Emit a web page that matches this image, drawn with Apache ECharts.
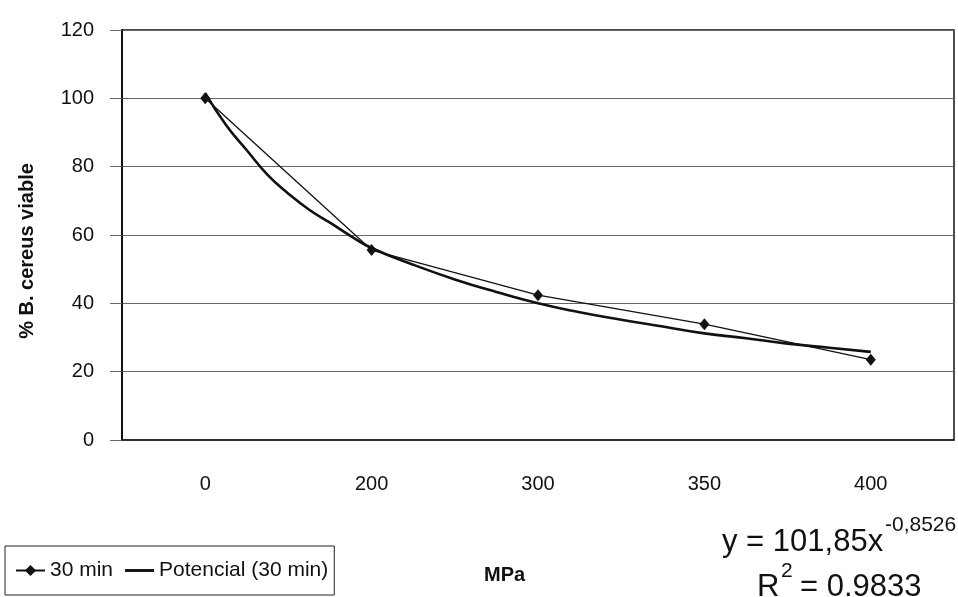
<!DOCTYPE html>
<html>
<head>
<meta charset="utf-8">
<script src="https://cdn.jsdelivr.net/npm/echarts@6/dist/echarts.min.js"></script>
<style>
  html, body { margin: 0; padding: 0; background: #fff; }
  #chart { width: 958px; height: 597px; }
</style>
</head>
<body>
<div id="chart"></div>
<script>
// pressure (MPa) categories and % viable B. cereus after 30 min
const categories = ['0', '200', '300', '350', '400']
const viable30 = [100, 55.6, 42.4, 33.9, 23.5]

// power trendline (x = category position 1..5)
const trendX = [1, 1.125, 1.25, 1.375, 1.5, 1.625, 1.75, 1.875, 2, 2.25, 2.5, 2.75, 3, 3.25, 3.5, 3.75, 4, 4.25, 4.5, 4.75, 5]
const trendY = [101.5, 92.2, 84.8, 77.6, 72.1, 67.4, 63.6, 59.7, 56.2, 51.3, 47.0, 43.3, 40.0, 37.4, 35.2, 33.2, 31.2, 29.8, 28.2, 27.0, 25.8]

const yTicks = { min: 0, max: 120, step: 20 }

const font = "'Liberation Sans', Arial, Helvetica, sans-serif"

const chart = echarts.init(document.getElementById('chart'))
chart.setOption({
  backgroundColor: '#fff',
  animation: false,
  textStyle: { fontFamily: font, color: '#111' },
  grid: {
    left: 122, right: 4, top: 30, bottom: 157,
    show: true, borderColor: '#111', borderWidth: 1.5,
    outerBoundsMode: 'none'
  },
  legend: {
    left: 5, top: 546,
    orient: 'horizontal',
    padding: [8, 6, 8, 10],
    borderColor: '#222', borderWidth: 1,
    itemWidth: 29, itemHeight: 14, itemGap: 12,
    textStyle: { fontSize: 21, color: '#111', fontFamily: font, lineHeight: 33 },
    data: [
      { name: '30 min' },
      { name: 'Potencial (30 min)', icon: 'path://M0,0 L30,0 L30,3 L0,3 Z' }
    ]
  },
  xAxis: [
    {
      type: 'category',
      data: categories,
      boundaryGap: true,
      axisLine: { lineStyle: { color: '#222', width: 1.5 } },
      axisTick: { length: 11, lineStyle: { color: '#444' } },
      axisLabel: { fontSize: 20, color: '#111', margin: 34 },
      splitLine: { show: false }
    },
    {
      type: 'value',
      min: 0.5, max: 5.5,
      show: false,
      splitLine: { show: false }
    }
  ],
  yAxis: {
    type: 'value',
    min: yTicks.min, max: yTicks.max, interval: yTicks.step,
    axisLine: { show: true, lineStyle: { color: '#111', width: 2 } },
    axisTick: { show: true, length: 12, lineStyle: { color: '#666' } },
    axisLabel: { fontSize: 20, color: '#111', margin: 28 },
    splitLine: { lineStyle: { color: '#666', width: 1 } }
  },
  graphic: [
    {
      type: 'text', x: 27, y: 251, rotation: Math.PI / 2,
      style: { text: '% B. cereus viable', font: 'bold 20px ' + font, fill: '#111', align: 'center', verticalAlign: 'middle' }
    },
    {
      type: 'text', x: 484, y: 575,
      style: { text: 'MPa', font: 'bold 20px ' + font, fill: '#111', align: 'left', verticalAlign: 'middle' }
    },
    {
      type: 'text', x: 722, y: 542,
      style: { text: 'y = 101,85x', font: '31px ' + font, fill: '#111', align: 'left', verticalAlign: 'middle' }
    },
    {
      type: 'text', x: 885, y: 525,
      style: { text: '-0,8526', font: '21px ' + font, fill: '#111', align: 'left', verticalAlign: 'middle' }
    },
    {
      type: 'text', x: 757, y: 587,
      style: { text: 'R', font: '31px ' + font, fill: '#111', align: 'left', verticalAlign: 'middle' }
    },
    {
      type: 'text', x: 781, y: 571,
      style: { text: '2', font: '21px ' + font, fill: '#111', align: 'left', verticalAlign: 'middle' }
    },
    {
      type: 'text', x: 800, y: 587,
      style: { text: '= 0.9833', font: '31px ' + font, fill: '#111', align: 'left', verticalAlign: 'middle' }
    }
  ],
  series: [
    {
      name: '30 min',
      type: 'line',
      data: viable30,
      symbol: 'diamond',
      symbolSize: [10, 12],
      lineStyle: { color: '#111', width: 1.3 },
      itemStyle: { color: '#111' },
      z: 3
    },
    {
      name: 'Potencial (30 min)',
      type: 'line',
      xAxisIndex: 1,
      data: trendX.map((x, i) => [x, trendY[i]]),
      smooth: 0.5,
      showSymbol: false,
      symbol: 'none',
      lineStyle: { color: '#111', width: 2.6 },
      itemStyle: { color: '#111' },
      z: 2
    }
  ]
})
</script>
</body>
</html>
